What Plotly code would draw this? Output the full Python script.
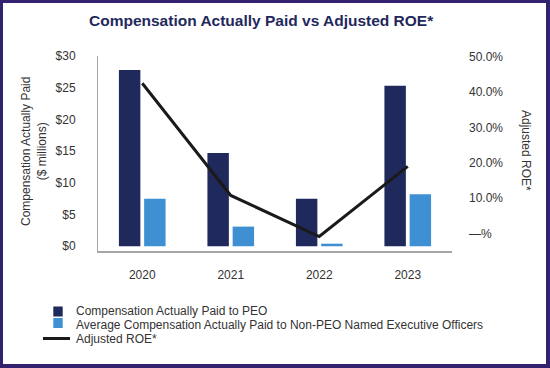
import plotly.graph_objects as go

years = ["2020", "2021", "2022", "2023"]
cap_peo = [27.8, 14.7, 7.5, 25.3]
cap_neo = [7.5, 3.1, 0.4, 8.2]
adj_roe = [42.5, 10.8, -0.8, 19.0]

series_names = ["Compensation Actually Paid to PEO",
                "Average Compensation Actually Paid to Non-PEO Named Executive Officers",
                "Adjusted ROE*"]

left_ticks = [0, 5, 10, 15, 20, 25, 30]
left_labels = ["$0", "$5", "$10", "$15", "$20", "$25", "$30"]
right_ticks = [0, 10, 20, 30, 40, 50]
right_labels = ["—%", "10.0%", "20.0%", "30.0%", "40.0%", "50.0%"]

W, H = 550, 368
L, R, T, B = 98, 98, 56, 117
PW, PH = W - L - R, H - T - B

def px(x):
    return (x - L) / PW

def py(y):
    return (H - B - y) / PH

FONT = "Arial, Liberation Sans, sans-serif"
NAVY = "#1F295C"
BLUE = "#3F90D2"
LINEC = "#1A1A1A"
PURPLE = "#33236E"
TXT = "#333333"

fig = go.Figure()
fig.add_trace(go.Bar(x=years, y=cap_peo, name=series_names[0],
                     marker=dict(color=NAVY, line=dict(width=0))))
fig.add_trace(go.Bar(x=years, y=cap_neo, name=series_names[1],
                     marker=dict(color=BLUE, line=dict(width=0))))
fig.add_trace(go.Scatter(x=years, y=adj_roe, name=series_names[2], yaxis="y2",
                         mode="lines", line=dict(color=LINEC, width=3)))

shapes = []
# white inner panel over the purple paper background -> purple frame
shapes.append(dict(type="rect", xref="paper", yref="paper", layer="below",
                   x0=px(3), x1=px(546), y0=py(364), y1=py(3),
                   fillcolor="white", line=dict(width=0)))

# legend (drawn manually to match the compact spacing)
shapes.append(dict(type="rect", xref="paper", yref="paper",
                   x0=px(53.3), x1=px(62.7), y0=py(316.5), y1=py(306.5),
                   fillcolor=NAVY, line=dict(width=0)))
shapes.append(dict(type="rect", xref="paper", yref="paper",
                   x0=px(53.3), x1=px(62.7), y0=py(328), y1=py(318),
                   fillcolor=BLUE, line=dict(width=0)))
shapes.append(dict(type="line", xref="paper", yref="paper",
                   x0=px(43), x1=px(70), y0=py(338.5), y1=py(338.5),
                   line=dict(color=LINEC, width=3)))

annotations = [
    dict(text="<b>Compensation Actually Paid vs Adjusted ROE*</b>", xref="paper", yref="paper",
         x=px(261), y=py(20), xanchor="center", yanchor="middle", showarrow=False,
         font=dict(family=FONT, size=15.5, color=NAVY)),
    dict(text="Compensation Actually Paid<br>($ millions)", xref="paper", yref="paper",
         x=px(34), y=py(152), xanchor="center", yanchor="middle", showarrow=False,
         textangle=-90, font=dict(family=FONT, size=12, color=TXT)),
    dict(text="Adjusted ROE*", xref="paper", yref="paper",
         x=px(526), y=py(150), xanchor="center", yanchor="middle", showarrow=False,
         textangle=90, font=dict(family=FONT, size=12, color=TXT)),
]
for name, yc in zip(series_names, [310.5, 324.5, 339]):
    annotations.append(dict(text=name, xref="paper", yref="paper",
                            x=px(74), y=py(yc), xanchor="left", yanchor="middle",
                            showarrow=False, font=dict(family=FONT, size=12, color=TXT)))

fig.update_layout(
    width=W, height=H,
    margin=dict(l=L, r=R, t=T, b=B),
    paper_bgcolor=PURPLE, plot_bgcolor="rgba(0,0,0,0)",
    barmode="group", bargap=0.43, bargroupgap=0.15,
    showlegend=False,
    xaxis=dict(showline=True, linecolor="#A6A6A6", linewidth=1.5, ticks="",
               showgrid=False, tickfont=dict(family=FONT, size=12, color=TXT),
               ticklabelstandoff=12),
    yaxis=dict(range=[-0.75, 30], tickvals=left_ticks, ticktext=left_labels,
               showline=True, linecolor="#A6A6A6", linewidth=1, ticks="",
               showgrid=False, zeroline=False,
               tickfont=dict(family=FONT, size=12, color=TXT),
               ticklabelstandoff=19),
    yaxis2=dict(range=[-4.9, 50.2], tickvals=right_ticks, ticktext=right_labels,
                overlaying="y", side="right", showline=False, ticks="",
                showgrid=False, zeroline=False,
                tickfont=dict(family=FONT, size=12, color=TXT),
                ticklabelstandoff=16),
    shapes=shapes,
    annotations=annotations,
)

fig.write_html("out.html", config={"displayModeBar": False},
               post_script="document.body.style.margin='0';document.body.style.padding='0';"
                           "document.body.style.overflow='hidden';")
